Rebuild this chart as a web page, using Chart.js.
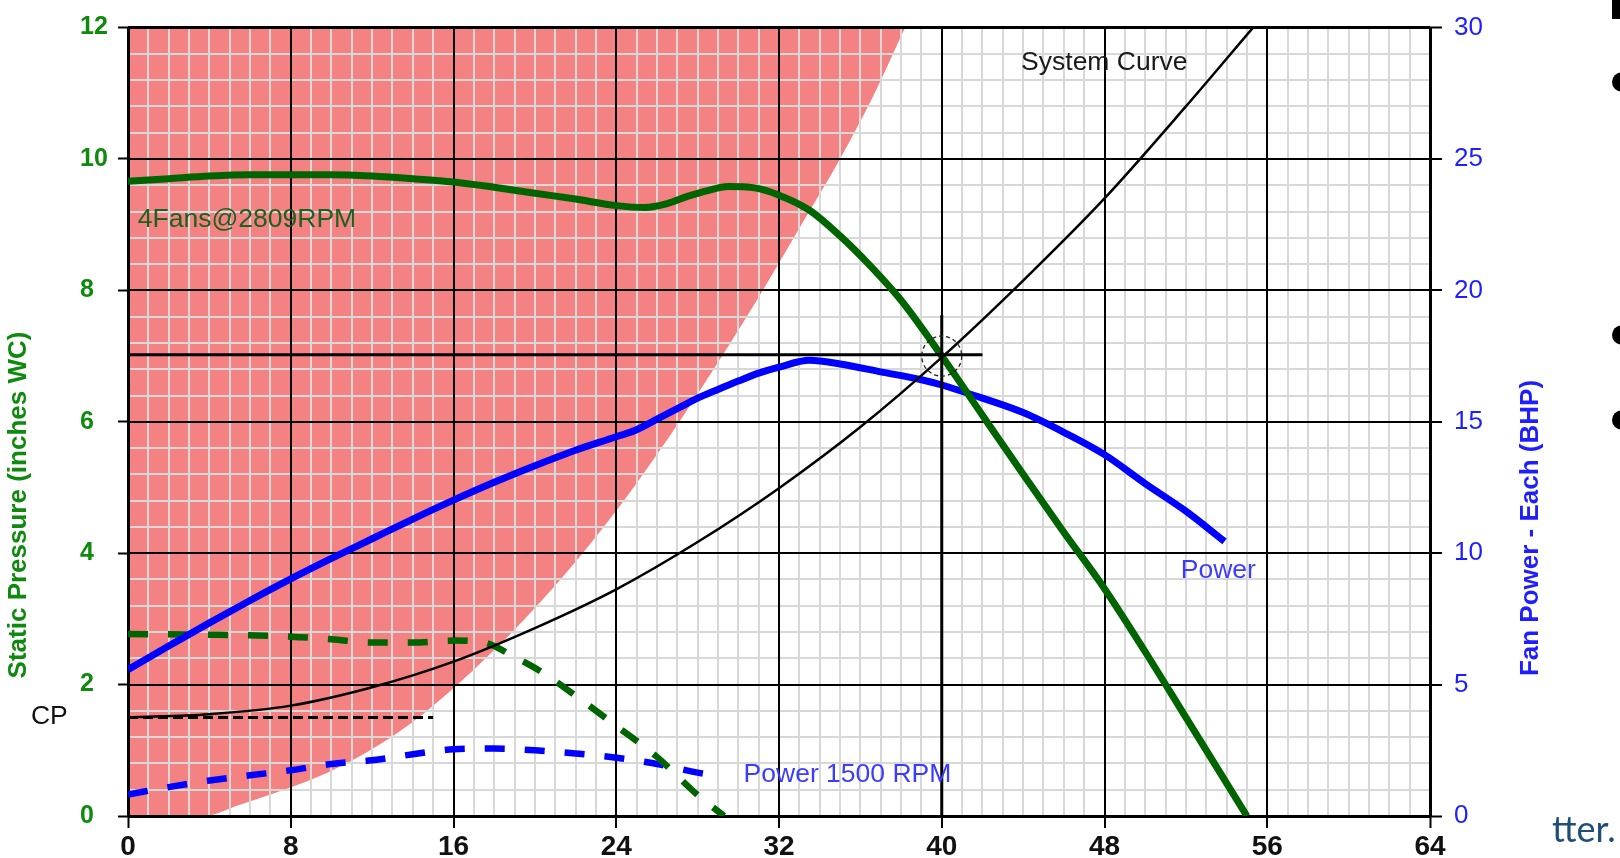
<!DOCTYPE html>
<html>
<head>
<meta charset="utf-8">
<title>Fan curves</title>
<script src="https://cdn.jsdelivr.net/npm/chart.js@4.4.1/dist/chart.umd.min.js"></script>
<style>
	html, body { margin: 0; padding: 0; background: #fff; }
	#wrap { width: 1620px; height: 858px; }
</style>
</head>
<body>
<div id="wrap"><canvas id="myChart" width="1620" height="858"></canvas></div>
<script>

// axis ticks
var flowTicks = [0, 8, 16, 24, 32, 40, 48, 56, 64];
var pressureTicks = [0, 2, 4, 6, 8, 10, 12];
var powerTicks = [0, 5, 10, 15, 20, 25, 30];

// 4 fans @ 2809 RPM, static pressure
var fanFlow = [0, 2, 4, 6, 8, 10, 12, 14, 16, 18, 20, 22, 24, 25.4, 26.5, 27.5, 28.5, 29.5, 30.8, 32, 33.5, 35, 36.5, 38, 40, 42, 44, 46, 48, 50, 52, 54, 55];
var fanPressure = [9.66, 9.70, 9.74, 9.76, 9.76, 9.76, 9.74, 9.70, 9.65, 9.57, 9.48, 9.39, 9.29, 9.26, 9.32, 9.43, 9.52, 9.58, 9.56, 9.45, 9.22, 8.83, 8.37, 7.85, 7.0, 6.1, 5.2, 4.32, 3.46, 2.5, 1.5, 0.5, 0];

// fan power - each
var powerFlow = [0, 2, 4, 6, 8, 10, 12, 14, 16, 18, 20, 22, 24, 25, 26, 27, 28, 29, 30, 31, 32, 33.5, 35, 37, 39, 40, 42, 44, 46, 48, 50, 52, 53.9];
var powerBhp = [5.57, 6.47, 7.35, 8.2, 9.02, 9.8, 10.55, 11.3, 12.02, 12.7, 13.33, 13.92, 14.43, 14.7, 15.1, 15.5, 15.9, 16.23, 16.55, 16.85, 17.08, 17.34, 17.2, 16.9, 16.6, 16.4, 15.9, 15.35, 14.6, 13.75, 12.65, 11.6, 10.45];

// system curve
var sysFlow = [0, 4, 8, 12, 16, 20, 24, 28, 32, 36, 40, 44, 48, 52, 55.3];
var sysPressure = [1.5, 1.55, 1.68, 1.96, 2.35, 2.86, 3.45, 4.17, 4.99, 5.92, 6.98, 8.15, 9.40, 10.80, 12.0];

// 1500 RPM pressure
var lowFlow = [0, 4, 8, 10, 12, 14, 16, 17.5, 19, 20.5, 22, 24, 26, 28, 29.3];
var lowPressure = [2.77, 2.76, 2.73, 2.69, 2.64, 2.64, 2.67, 2.64, 2.42, 2.16, 1.83, 1.37, 0.9, 0.32, 0];

// 1500 RPM power
var lowPowerFlow = [0, 2, 4, 6, 8, 10, 12, 14, 16, 18, 20, 22, 24, 26, 28, 29.2];
var lowPowerBhp = [0.82, 1.1, 1.35, 1.55, 1.74, 1.98, 2.12, 2.35, 2.54, 2.57, 2.5, 2.38, 2.22, 1.98, 1.65, 1.5];

// stall region edge
var stallFlow = [0, 3.7, 5.5, 7.5, 9.8, 11.8, 14, 16.2, 19.5, 22.35, 24.85, 27.1, 29.2, 31.2, 33.1, 35, 36.7, 38.2];
var stallPressure = [0, 0, 0.17, 0.38, 0.66, 0.98, 1.43, 2.0, 3.0, 4.0, 5.0, 6.0, 7.0, 8.0, 9.0, 10.0, 11.0, 12.0];

// operating point, its guide lines and the control pressure
var opFlow = [40];
var opPressure = [7.0];
var opLineFlow = [0, 42];
var opLinePressure = [7.02, 7.02];
var opDropFlow = [40, 40];
var opDropPressure = [0, 7.62];
var cpFlow = [0, 15];
var cpPressure = [1.5, 1.5];

// text on the plot (flow / pressure units)
var notes = [
	{text: '4Fans@2809RPM', flow: 0.48, pressure: 8.97, color: '#1e601e'},
	{text: 'System Curve', flow: 43.9, pressure: 11.35, color: '#1a1a1a'},
	{text: 'Power', flow: 51.75, pressure: 3.63, color: '#3c3cff'},
	{text: 'Power 1500 RPM', flow: 30.26, pressure: 0.52, color: '#3c3cff'},
	{text: 'CP', flow: -4.77, pressure: 1.40, color: '#111'}
];

function pts(xs, ys) {
	return xs.map(function(v, i) { return {x: v, y: ys[i]}; });
}

function last(a) { return a[a.length - 1]; }

var FONT = '"Liberation Sans", Arial, sans-serif';
var GREEN = '#006400';
var BLUE = '#0000ff';

function edgeWidth(ticks) {
	return function(c) {
		var v = c.tick.value;
		return (v === ticks[0] || v === last(ticks)) ? 3 : 2;
	};
}

// dashed outline for the operating point ring
var dashRing = {
	id: 'dashRing',
	beforeDatasetDraw: function(chart, args) {
		if (chart.data.datasets[args.index].dashedRing) {
			chart.ctx.save();
			chart.ctx.setLineDash([4, 3]);
		}
	},
	afterDatasetDraw: function(chart, args) {
		if (chart.data.datasets[args.index].dashedRing) chart.ctx.restore();
	}
};

var labels = {
	id: 'labels',
	afterDraw: function(chart) {
		var ctx = chart.ctx;
		var sx = chart.scales.x, sy = chart.scales.y;

		ctx.save();
		ctx.textAlign = 'left';
		ctx.textBaseline = 'alphabetic';
		ctx.font = '26.5px ' + FONT;
		notes.forEach(function(n) {
			ctx.fillStyle = n.color;
			ctx.fillText(n.text, sx.getPixelForValue(n.flow), sy.getPixelForValue(n.pressure));
		});
		ctx.restore();

		// axis titles
		ctx.save();
		ctx.font = 'bold 26px ' + FONT;
		ctx.textAlign = 'center';
		ctx.textBaseline = 'alphabetic';
		ctx.fillStyle = '#0f8a0f';
		ctx.translate(26, 505);
		ctx.rotate(-Math.PI / 2);
		ctx.fillText('Static Pressure (inches WC)', 0, 0);
		ctx.restore();

		ctx.save();
		ctx.font = 'bold 26px ' + FONT;
		ctx.textAlign = 'center';
		ctx.textBaseline = 'alphabetic';
		ctx.fillStyle = '#1e1eff';
		ctx.translate(1538, 528);
		ctx.rotate(-Math.PI / 2);
		ctx.fillText('Fan Power - Each (BHP)', 0, 0);
		ctx.restore();

		// bits of the slide around the chart
		ctx.save();
		ctx.fillStyle = '#000';
		ctx.fillRect(1612, 0, 8, 19);
		[82, 335, 420].forEach(function(cy) {
			ctx.beginPath();
			ctx.arc(1621.5, cy, 9.5, 0, Math.PI * 2);
			ctx.fill();
		});
		ctx.fillStyle = '#1f4e79';
		ctx.font = '36px Lato, "Open Sans", sans-serif';
		ctx.textAlign = 'left';
		ctx.fillText('tter.', 1552, 842);
		ctx.restore();
	}
};

Chart.defaults.font.family = FONT;

var ctx = document.getElementById('myChart');
var myChart = new Chart(ctx, {
	type: 'line',
	data: {
		datasets: [
			{
				label: 'stall',
				data: pts(stallFlow, stallPressure),
				yAxisID: 'y',
				borderColor: 'transparent',
				borderWidth: 0,
				backgroundColor: '#f58282',
				fill: 'end',
				pointRadius: 0,
				cubicInterpolationMode: 'monotone',
				order: 10
			},
			{
				label: 'Power 1500 RPM',
				data: pts(lowPowerFlow, lowPowerBhp),
				yAxisID: 'y2',
				borderColor: BLUE,
				borderWidth: 6.5,
				borderDash: [20, 20],
				pointRadius: 0,
				cubicInterpolationMode: 'monotone',
				order: 6
			},
			{
				label: '1500 RPM',
				data: pts(lowFlow, lowPressure),
				yAxisID: 'y',
				borderColor: GREEN,
				borderWidth: 6.5,
				borderDash: [20, 20],
				pointRadius: 0,
				cubicInterpolationMode: 'monotone',
				order: 5
			},
			{
				label: 'Power',
				data: pts(powerFlow, powerBhp),
				yAxisID: 'y2',
				borderColor: BLUE,
				borderWidth: 7,
				pointRadius: 0,
				cubicInterpolationMode: 'monotone',
				order: 4
			},
			{
				label: '4Fans@2809RPM',
				data: pts(fanFlow, fanPressure),
				yAxisID: 'y',
				borderColor: GREEN,
				borderWidth: 7,
				pointRadius: 0,
				cubicInterpolationMode: 'monotone',
				order: 3
			},
			{
				label: 'System Curve',
				data: pts(sysFlow, sysPressure),
				yAxisID: 'y',
				borderColor: '#000',
				borderWidth: 2.5,
				pointRadius: 0,
				cubicInterpolationMode: 'monotone',
				order: 2
			},
			{
				label: 'CP',
				data: pts(cpFlow, cpPressure),
				yAxisID: 'y',
				borderColor: '#000',
				borderWidth: 3,
				borderDash: [10, 5],
				pointRadius: 0,
				order: 2
			},
			{
				label: 'op flow',
				data: pts(opLineFlow, opLinePressure),
				yAxisID: 'y',
				borderColor: '#000',
				borderWidth: 3,
				pointRadius: 0,
				order: 1
			},
			{
				label: 'op drop',
				data: pts(opDropFlow, opDropPressure),
				yAxisID: 'y',
				borderColor: '#000',
				borderWidth: 3,
				pointRadius: 0,
				order: 1
			},
			{
				label: 'operating point',
				data: pts(opFlow, opPressure),
				yAxisID: 'y',
				showLine: false,
				dashedRing: true,
				pointRadius: 20,
				pointBorderWidth: 1.3,
				pointBorderColor: '#222',
				pointBackgroundColor: 'transparent',
				order: 0
			}
		]
	},
	options: {
		responsive: false,
		animation: false,
		events: [],
		layout: { padding: { left: 80, top: 24, right: 0, bottom: 0 } },
		plugins: {
			legend: { display: false },
			tooltip: { enabled: false },
			filler: { drawTime: 'beforeDraw' }
		},
		scales: {
			x: {
				type: 'linear',
				position: 'bottom',
				min: flowTicks[0],
				max: last(flowTicks),
				ticks: {
					stepSize: flowTicks[1] - flowTicks[0],
					autoSkip: false,
					maxRotation: 0,
					padding: 2,
					color: '#111',
					font: { family: '"Liberation Sans Narrow", "Arial Narrow", ' + FONT, size: 28, weight: 'bold' }
				},
				grid: { color: '#000', lineWidth: edgeWidth(flowTicks), tickLength: 12, tickWidth: 2, tickColor: '#000' },
				border: { display: false },
				afterFit: function(s) { s.height = 42; }
			},
			xMinor: {
				type: 'linear',
				position: 'bottom',
				min: flowTicks[0],
				max: last(flowTicks),
				ticks: { display: false, stepSize: 1 },
				grid: {
					z: -2,
					lineWidth: 2,
					drawTicks: false,
					color: function(c) { return c.tick.value % 8 === 0 ? 'rgba(0,0,0,0)' : '#d8d8d8'; }
				},
				border: { display: false },
				afterFit: function(s) { s.height = 0; }
			},
			y: {
				position: 'left',
				min: pressureTicks[0],
				max: last(pressureTicks),
				ticks: {
					stepSize: pressureTicks[1] - pressureTicks[0],
					crossAlign: 'far',
					color: '#0f8a0f',
					font: { size: 25, weight: 'bold' }
				},
				grid: { drawOnChartArea: false, color: '#000', tickLength: 10, tickWidth: 2, tickColor: '#000' },
				border: { display: false },
				afterFit: function(s) { s.width = 48; }
			},
			y2: {
				position: 'right',
				min: powerTicks[0],
				max: last(powerTicks),
				ticks: {
					stepSize: powerTicks[1] - powerTicks[0],
					padding: 12,
					color: '#1e1eff',
					font: { size: 26 }
				},
				grid: { color: '#000', lineWidth: edgeWidth(powerTicks), tickLength: 12, tickWidth: 2, tickColor: '#000' },
				border: { display: false },
				afterFit: function(s) { s.width = 190; }
			},
			y2Minor: {
				position: 'right',
				min: powerTicks[0],
				max: last(powerTicks),
				ticks: { display: false, stepSize: 1 },
				grid: {
					z: -2,
					lineWidth: 2,
					drawTicks: false,
					color: function(c) { return c.tick.value % 5 === 0 ? 'rgba(0,0,0,0)' : '#d8d8d8'; }
				},
				border: { display: false },
				afterFit: function(s) { s.width = 0; }
			}
		}
	},
	plugins: [dashRing, labels]
});

</script>
</body>
</html>
